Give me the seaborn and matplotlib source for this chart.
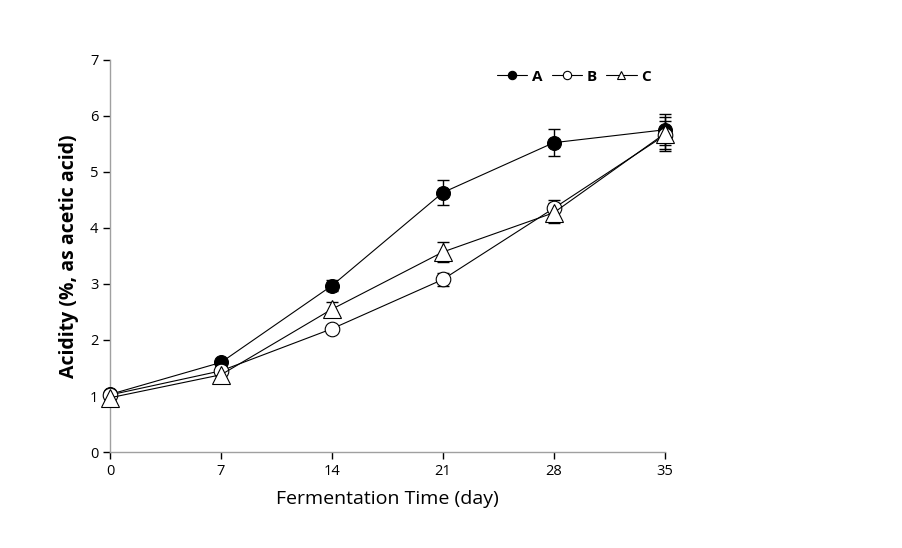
import numpy as np
import pandas as pd
import matplotlib.pyplot as plt
from matplotlib.lines import Line2D
import seaborn as sns

days = [0, 7, 14, 21, 28, 35]
acid_a = [1.03, 1.60, 2.97, 4.63, 5.52, 5.75]
acid_b = [1.02, 1.45, 2.20, 3.08, 4.35, 5.65]
acid_c = [0.97, 1.38, 2.55, 3.57, 4.27, 5.68]
err_a = [0.05, 0.05, 0.10, 0.22, 0.24, 0.28]
err_b = [0.05, 0.05, 0.05, 0.12, 0.15, 0.25]
err_c = [0.05, 0.05, 0.12, 0.18, 0.18, 0.30]
names = ['A', 'B', 'C']

sns.set_style('white')
plt.rcParams['font.family'] = ['Open Sans', 'DejaVu Sans']

fig = plt.figure(figsize=(9.03, 5.48), dpi=100)
ax = fig.add_axes([0.122, 0.175, 0.614, 0.716])

series = [acid_a, acid_b, acid_c]
errs = [err_a, err_b, err_c]
markers = ['o', 'o', '^']
faces = ['black', 'white', 'white']
sizes = [10, 10.5, 13]

for i in range(len(names)):
    eb = ax.errorbar(days, series[i], yerr=errs[i], fmt='none', ecolor='black',
                     elinewidth=1, capsize=4, capthick=1, zorder=2)
    for art in eb.lines[1] + eb.lines[2]:
        art.set_clip_on(False)
    sns.lineplot(x=days, y=series[i], ax=ax, color='black', linewidth=0.8,
                 marker=markers[i], markersize=sizes[i], markerfacecolor=faces[i],
                 markeredgecolor='black', markeredgewidth=0.8, zorder=3,
                 clip_on=False)

ax.set_xlim(0, 35)
ax.set_ylim(0, 7)
ax.set_xticks(days)
ax.set_yticks(range(0, 8))
for s in ['top', 'right']:
    ax.spines[s].set_visible(False)
for s in ['left', 'bottom']:
    ax.spines[s].set_color('#a0a0a0')
    ax.spines[s].set_linewidth(1)
ax.tick_params(axis='both', direction='out', length=5, width=1, color='black',
               labelsize=10.5, labelcolor='black', bottom=True, left=True)
ax.set_xlabel('Fermentation Time (day)', fontsize=14, labelpad=8, color='black')
ax.set_ylabel('Acidity (%, as acetic acid)', fontsize=14, fontweight='bold',
              labelpad=8, color='black')

# legend with small markers
handles = [Line2D([], [], color='black', linewidth=0.8, marker=markers[i],
                  markersize=6, markerfacecolor=faces[i], markeredgecolor='black',
                  markeredgewidth=0.8) for i in range(len(names))]
ax.legend(handles, names, loc='upper right', bbox_to_anchor=(1.0, 1.01), ncol=3,
          frameon=False, handlelength=2.0, handletextpad=0.3, columnspacing=0.6,
          prop={'size': 11, 'weight': 'bold'}, labelcolor='black')

plt.savefig('out.png', dpi=100)
